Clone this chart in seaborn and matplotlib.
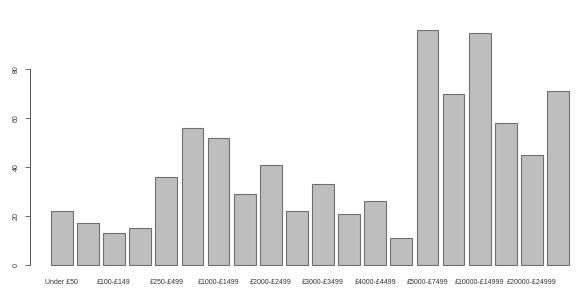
import matplotlib
matplotlib.use("Agg")
import matplotlib.pyplot as plt
import seaborn as sns
import pandas as pd

# Données
categories = ["Under £50", "£50-£99", "£100-£149", "£150-£249", "£250-£499",
              "£500-£999", "£1000-£1499", "£1500-£1999", "£2000-£2499", "£2500-£2999",
              "£3000-£3499", "£3500-£3999", "£4000-£4499", "£4500-£4999", "£5000-£7499",
              "£7500-£9999", "£10000-£14999", "£15000-£19999", "£20000-£24999", "£25000+"]
counts = [22, 17, 13, 15, 36, 56, 52, 29, 41, 22, 33, 21, 26, 11, 96, 70, 95, 58, 45, 71]
y_ticks = [0, 20, 40, 60, 80]

df = pd.DataFrame({"cat": categories, "n": counts})

sns.set_style("white")
plt.rcParams["font.family"] = ["Liberation Sans", "DejaVu Sans"]

fig = plt.figure(figsize=(5.86, 3.04), dpi=100)
ax = fig.add_axes([0.052, 0.097, 0.948, 0.835])

sns.barplot(data=df, x="cat", y="n", color="#bebebe", saturation=1,
            width=1 / 1.2, edgecolor="#707070", linewidth=0.8, ax=ax)

ax.set_xlim(-1.2, 20.07)
ax.set_ylim(-3.84, 99.84)

for s in ["top", "right", "bottom"]:
    ax.spines[s].set_visible(False)
ax.spines["left"].set_bounds(0, 80)
ax.spines["left"].set_color("#555555")
ax.spines["left"].set_linewidth(0.7)

ax.set_yticks(y_ticks)
ax.set_yticklabels([str(v) for v in y_ticks], rotation=90, va="center",
                   fontsize=5, color="#333333")
ax.tick_params(axis="y", length=3.5, width=0.6, color="#555555", pad=4, left=True)

xt = list(range(0, len(categories), 2))
ax.set_xticks(xt)
ax.set_xticklabels([categories[i] for i in xt], fontsize=5, color="#333333")
ax.tick_params(axis="x", length=0, pad=3)

ax.set_xlabel("")
ax.set_ylabel("")

fig.savefig("out.png", dpi=100)
